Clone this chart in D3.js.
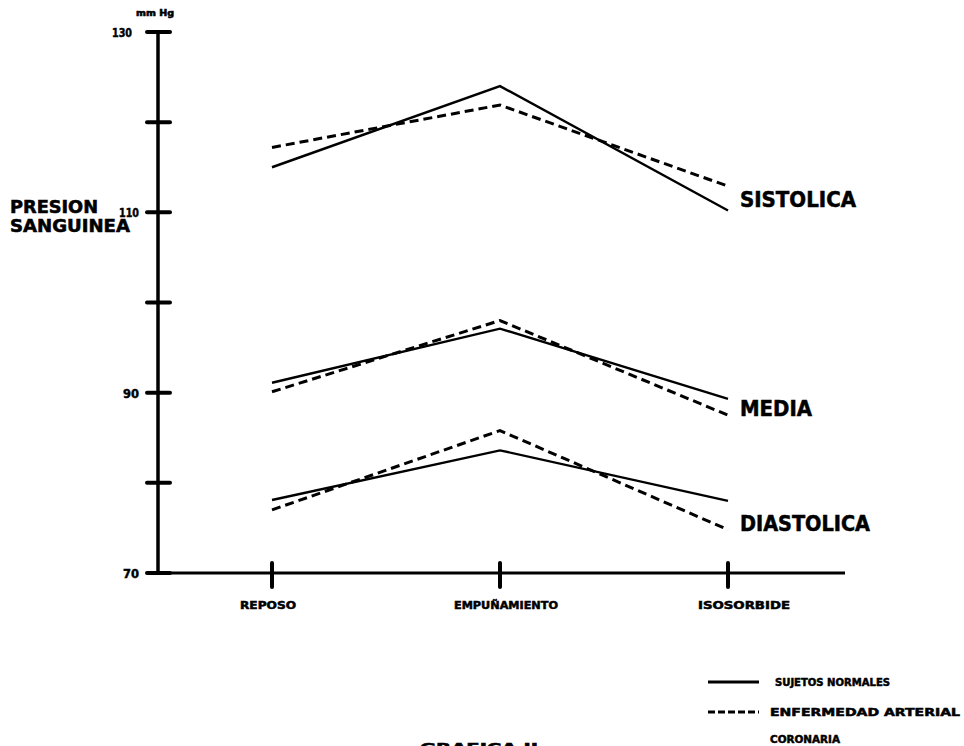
<!DOCTYPE html>
<html lang="es">
<head>
<meta charset="utf-8">
<title>Grafica II</title>
<style>
  body { margin: 0; background: #fff; }
  svg { display: block; }
  text { font-family: "Liberation Sans Narrow", "DejaVu Sans Condensed", "Liberation Sans", sans-serif; font-weight: bold; fill: #000; stroke: #000; stroke-width: 0.5; }
</style>
</head>
<body>
<script src="https://cdn.jsdelivr.net/npm/d3@7"></script>
<script>

// categorias del eje x
var categories = ["REPOSO", "EMPUÑAMIENTO", "ISOSORBIDE"];

// presion sanguinea (mm Hg)
var sistNormal = [115.0, 124.0, 110.2];
var sistCoronary = [117.2, 121.9, 112.9];
var mediaNormal = [91.1, 97.1, 89.3];
var mediaCoronary = [90.1, 98.0, 87.5];
var diastNormal = [78.1, 83.6, 78.0];
var diastCoronary = [77.0, 85.8, 74.8];

var yTicks = [70, 80, 90, 100, 110, 120, 130];
var yTickLabels = [70, 90, 110, 130];
var seriesNames = ["SISTOLICA", "MEDIA", "DIASTOLICA"];

var w = 964;
var h = 746;
var svg = d3.select("body").append("svg").attr("width", w).attr("height", h);

var x = d3.scalePoint().domain(categories).range([272, 728]);
var y = d3.scaleLinear().domain([70, 130]).range([573, 32]);

var axisX = 158;

// texto comprimido a un ancho dado
function fit(sel, width) {
  sel.attr("textLength", width).attr("lengthAdjust", "spacingAndGlyphs");
}

// eje y
svg.append("line")
  .attr("x1", axisX).attr("x2", axisX)
  .attr("y1", y(130)).attr("y2", y(70))
  .attr("stroke", "#000").attr("stroke-width", 3.5);

svg.selectAll("line.ytick").data(yTicks).enter().append("line")
  .attr("class", "ytick")
  .attr("x1", axisX - 11).attr("x2", axisX + 12)
  .attr("y1", function(d){ return y(d); })
  .attr("y2", function(d){ return y(d); })
  .attr("stroke", "#000").attr("stroke-width", 4)
  .attr("stroke-linecap", "round");

svg.selectAll("text.ylab").data(yTickLabels).enter().append("text")
  .attr("class", "ylab")
  .attr("x", function(d){ return d == 130 ? 132 : 139; })
  .attr("y", function(d){ return y(d) + 5; })
  .attr("text-anchor", "end")
  .attr("font-size", "13px")
  .text(function(d){ return d; })
  .each(function(d){ fit(d3.select(this), d >= 100 ? 20 : 16); });

svg.append("text")
  .attr("x", 136).attr("y", 16)
  .attr("font-size", "8px")
  .text("mm Hg")
  .call(fit, 38);

// titulo eje y
svg.append("text")
  .attr("x", 10).attr("y", 213)
  .attr("font-size", "17px")
  .text("PRESION")
  .call(fit, 88);
svg.append("text")
  .attr("x", 10).attr("y", 232)
  .attr("font-size", "17px")
  .text("SANGUINEA")
  .call(fit, 120);

// eje x
svg.append("line")
  .attr("x1", 150).attr("x2", 845)
  .attr("y1", y(70)).attr("y2", y(70))
  .attr("stroke", "#000").attr("stroke-width", 3);

svg.selectAll("line.xtick").data(categories).enter().append("line")
  .attr("class", "xtick")
  .attr("x1", function(d){ return x(d); })
  .attr("x2", function(d){ return x(d); })
  .attr("y1", y(70) - 10).attr("y2", y(70) + 14)
  .attr("stroke", "#000").attr("stroke-width", 4)
  .attr("stroke-linecap", "round");

var xLabelWidth = [56, 104, 92];
svg.selectAll("text.xlab").data(categories).enter().append("text")
  .attr("class", "xlab")
  .attr("x", function(d, i){ return x(d) - 4 + i * 10 - xLabelWidth[i] / 2; })
  .attr("y", 609)
  .attr("font-size", "11px")
  .text(function(d){ return d; })
  .each(function(d, i){ fit(d3.select(this), xLabelWidth[i]); });

// lineas
var line = d3.line()
  .x(function(d, i){ return x(categories[i]); })
  .y(function(d){ return y(d); });

var series = [
  {v: sistNormal, dash: null},
  {v: sistCoronary, dash: "9,5"},
  {v: mediaNormal, dash: null},
  {v: mediaCoronary, dash: "9,5"},
  {v: diastNormal, dash: null},
  {v: diastCoronary, dash: "9,5"}
];

svg.selectAll("path.serie").data(series).enter().append("path")
  .attr("class", "serie")
  .attr("d", function(d){ return line(d.v); })
  .attr("fill", "none")
  .attr("stroke", "#000")
  .attr("stroke-width", function(d){ return d.dash ? 3 : 2.4; })
  .attr("stroke-dasharray", function(d){ return d.dash; });

// nombres de las series
var nameY = [207, 416, 531];
var nameW = [116, 72, 130];
svg.selectAll("text.sname").data(seriesNames).enter().append("text")
  .attr("class", "sname")
  .attr("x", 740)
  .attr("y", function(d, i){ return nameY[i]; })
  .attr("font-size", "21px")
  .text(function(d){ return d; })
  .each(function(d, i){ fit(d3.select(this), nameW[i]); });

// leyenda
var legend = [
  {label: "SUJETOS   NORMALES", dash: null, y: 682, w: 115},
  {label: "ENFERMEDAD  ARTERIAL", dash: "7,3", y: 712, w: 190}
];
var lg = svg.selectAll("g.legend").data(legend).enter().append("g").attr("class", "legend");
lg.append("line")
  .attr("x1", 708).attr("x2", 759)
  .attr("y1", function(d){ return d.y; })
  .attr("y2", function(d){ return d.y; })
  .attr("stroke", "#000")
  .attr("stroke-width", 3)
  .attr("stroke-dasharray", function(d){ return d.dash; });
lg.append("text")
  .attr("x", function(d, i){ return i == 0 ? 775 : 770; })
  .attr("y", function(d){ return d.y + 4; })
  .attr("font-size", "11px")
  .text(function(d){ return d.label; })
  .each(function(d){ fit(d3.select(this), d.w); });
svg.append("text")
  .attr("x", 770).attr("y", 743)
  .attr("font-size", "11px")
  .text("CORONARIA")
  .call(fit, 70);

// titulo (cortado abajo, como en el original)
svg.append("text")
  .attr("x", 420).attr("y", 752)
  .attr("font-size", "13px")
  .text("GRAFICA  II")
  .call(fit, 118);

</script>
</body>
</html>
